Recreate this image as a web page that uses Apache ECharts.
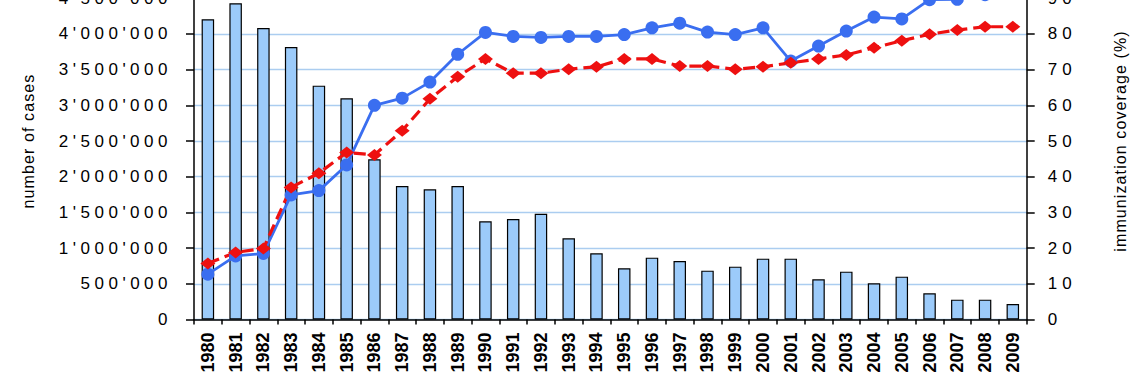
<!DOCTYPE html>
<html>
<head>
<meta charset="utf-8">
<script src="https://cdn.jsdelivr.net/npm/echarts@6/dist/echarts.min.js"></script>
<style>
html,body{margin:0;padding:0;background:#fff;}
#chart{width:1140px;height:380px;}
</style>
</head>
<body>
<div id="chart"></div>
<script>
var years = ['1980','1981','1982','1983','1984','1985','1986','1987','1988','1989','1990','1991','1992','1993','1994','1995','1996','1997','1998','1999','2000','2001','2002','2003','2004','2005','2006','2007','2008','2009'];
var cases = [4205000,4430000,4083000,3817000,3275000,3098000,2244000,1870000,1823000,1870000,1375000,1408000,1482000,1137000,927000,717000,866000,819000,684000,740000,852000,852000,563000,670000,507000,600000,367000,278000,278000,217000];
var coverageBlue = [12.7,17.8,18.5,34.9,36.1,43.3,60,62,66.5,74.3,80.4,79.3,79,79.3,79.3,79.8,81.7,83,80.5,79.8,81.7,72.4,76.6,80.8,84.7,84.2,89.6,89.7,91,92];
var coverageRed = [15.7,18.8,19.9,37,41,46.8,46.1,52.9,61.8,68,73,69,69,70.1,70.8,73,73,71,71,70.1,70.8,71.9,73,74.1,76.1,78.1,79.9,81.1,82,82];
var leftTickLabels = ["0","500'000","1'000'000","1'500'000","2'000'000","2'500'000","3'000'000","3'500'000","4'000'000","4'500'000","5'000'000"];
var rightTickLabels = ["0","10","20","30","40","50","60","70","80","90","100"];

var chart = echarts.init(document.getElementById('chart'), null, {renderer:'svg'});
var axisFont = 'Arial, "Liberation Sans", sans-serif';
chart.setOption({
  animation:false,
  backgroundColor:'#fff',
  grid:{left:194,right:113.3,top:-37.5,bottom:60.5,containLabel:false,outerBoundsMode:'none'},
  xAxis:{
    type:'category',data:years,boundaryGap:true,
    axisLine:{lineStyle:{color:'#000',width:1.5}},
    axisTick:{show:true,alignWithLabel:false,interval:0,length:5,lineStyle:{color:'#000',width:1.5}},
    axisLabel:{interval:0,rotate:90,margin:13,fontSize:18,fontWeight:'bold',color:'#000',fontFamily:axisFont},
    splitLine:{show:false}
  },
  yAxis:[{
    type:'value',min:0,max:5000000,interval:500000,position:'left',
    name:'number of cases',nameLocation:'middle',nameGap:158,nameRotate:90,
    nameTextStyle:{fontSize:16,color:'#000',fontFamily:axisFont},
    axisLine:{show:true,lineStyle:{color:'#000',width:1.5}},
    axisTick:{show:true,inside:false,length:8,lineStyle:{color:'#000',width:1.5}},
    axisLabel:{margin:22,fontSize:17,color:'#000',fontFamily:axisFont,
      formatter:function(v){return leftTickLabels[Math.round(v/500000)];}},
    splitLine:{show:true,lineStyle:{color:'#abcdf0',width:1.3}}
  },{
    type:'value',min:0,max:100,interval:10,position:'right',
    name:'immunization coverage (%)',nameLocation:'middle',nameGap:86,nameRotate:90,
    nameTextStyle:{fontSize:16,color:'#000',fontFamily:axisFont},
    axisLine:{show:true,lineStyle:{color:'#000',width:1.5}},
    axisTick:{show:true,inside:false,length:8,lineStyle:{color:'#000',width:1.5}},
    axisLabel:{margin:21,fontSize:17,color:'#000',fontFamily:axisFont,
      formatter:function(v){return rightTickLabels[Math.round(v/10)];}},
    splitLine:{show:false}
  }],
  series:[{
    name:'number of cases',type:'bar',yAxisIndex:0,data:cases,barWidth:12.5,
    itemStyle:{color:'#9ccbfa',borderColor:'#000',borderWidth:1.2}
  },{
    name:'coverage (blue)',type:'line',yAxisIndex:1,data:coverageBlue,
    symbol:'circle',symbolSize:13,
    lineStyle:{color:'#3a6ef0',width:2.8},
    itemStyle:{color:'#3a6ef0'}
  },{
    name:'coverage (red)',type:'line',yAxisIndex:1,data:coverageRed,
    symbol:'diamond',symbolSize:[15,12],
    lineStyle:{color:'#ee1010',width:3.2,type:[12,6]},
    itemStyle:{color:'#ee1010'}
  }]
});

function spaceText(){
  var texts = document.querySelectorAll('#chart text');
  texts.forEach(function(t){
    var s = t.textContent || '';
    var anchor = t.getAttribute('text-anchor');
    if (/[a-z]/i.test(s)) { t.style.letterSpacing = '1.1px'; }
    else if (/^\d{4}$/.test(s) && /bold/.test(t.getAttribute('style')||'' ) ) { t.style.letterSpacing = '0px'; }
    else if (anchor === 'end') { t.style.letterSpacing = '4.5px'; }
    else { t.style.letterSpacing = '5px'; }
  });
}
spaceText();
chart.on('finished', spaceText);
</script>
</body>
</html>
